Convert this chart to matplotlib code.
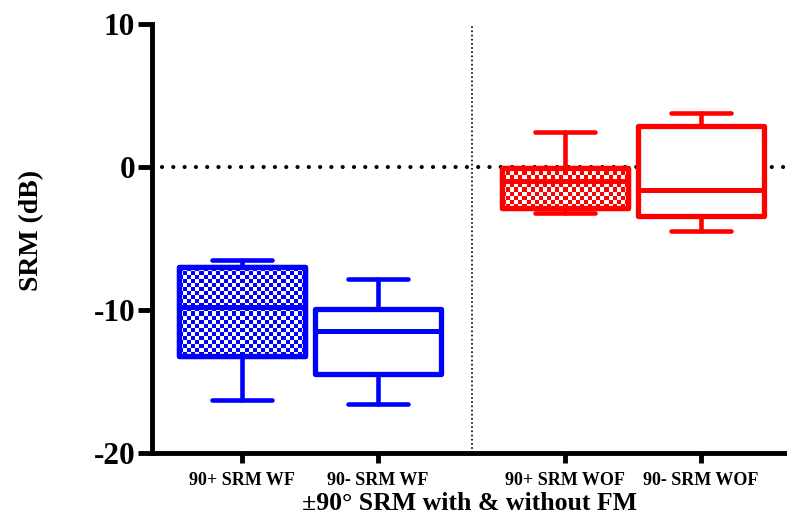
import numpy as np
import matplotlib
matplotlib.use("Agg")
import matplotlib.pyplot as plt

# ---- data ----
categories = ["90+ SRM WF", "90- SRM WF", "90+ SRM WOF", "90- SRM WOF"]
whislo = [-16.3, -16.6, -3.2, -4.45]
q1 = [-13.2, -14.5, -2.9, -3.45]
med = [-9.8, -11.5, -0.95, -1.6]
q3 = [-7.0, -9.9, -0.1, 2.85]
whishi = [-6.5, -7.8, 2.45, 3.8]
colors = ["#0000ff", "#0000ff", "#ff0000", "#ff0000"]
checkered = [True, False, True, False]
yticks = [-20, -10, 0, 10]

positions = [1, 2, 3.375, 4.375]
divider_x = 2.69

plt.rcParams['font.family'] = ['Liberation Serif', 'DejaVu Serif']
plt.rcParams['font.weight'] = 'bold'

fig = plt.figure(figsize=(7.87, 5.18), dpi=100)
ax = fig.add_axes([152/787, 1-453/518, 1-152/787, (453-24)/518])

stats = []
for i in range(len(categories)):
    stats.append(dict(label=categories[i], whislo=whislo[i], q1=q1[i], med=med[i],
                      q3=q3[i], whishi=whishi[i], fliers=[]))

bp = ax.bxp(stats, positions=positions, widths=0.93, capwidths=0.44,
            patch_artist=True, showfliers=False, manage_ticks=False)

ax.set_xlim(0.338, 5.007)
ax.set_ylim(-20, 10)

for i, box in enumerate(bp['boxes']):
    c = colors[i]
    box.set_facecolor('white')
    box.set_edgecolor(c)
    box.set_linewidth(3.8)
    box.set_joinstyle('round')
    box.set_zorder(3)
    for art in (bp['whiskers'][2*i], bp['whiskers'][2*i+1], bp['caps'][2*i], bp['caps'][2*i+1]):
        art.set_color(c)
        art.set_linewidth(3.3)
        art.set_solid_capstyle('round')
        art.set_zorder(2.5)
    m = bp['medians'][i]
    m.set_color(c)
    m.set_linewidth(3.6)
    m.set_zorder(5)
    if checkered[i]:
        ext = box.get_path().get_extents()
        x0, y0, x1, y1 = ext.x0, ext.y0, ext.x1, ext.y1
        disp = ax.transData.transform([[x0, y0], [x1, y1]])
        wpx = abs(disp[1, 0] - disp[0, 0])
        hpx = abs(disp[1, 1] - disp[0, 1])
        nx = max(2, int(round(wpx / 4.1)))
        ny = max(2, int(round(hpx / 4.1)))
        yy, xx = np.indices((ny, nx))
        chk = ((xx + yy) % 2 == 0)
        rgb = np.array(matplotlib.colors.to_rgb(c))
        img = np.ones((ny, nx, 3))
        img[chk] = rgb
        im = ax.imshow(img, extent=(x0, x1, y0, y1), interpolation='nearest',
                       aspect='auto', zorder=4)
        im.set_clip_path(box)
        edge = matplotlib.patches.PathPatch(box.get_path(), facecolor='none',
                                            edgecolor=c, linewidth=3.8,
                                            joinstyle='round', zorder=4.5)
        ax.add_patch(edge)

ax.set_aspect('auto')

# reference lines
ax.axhline(0, xmin=0.015, color='black', linewidth=3.0, dashes=(0.01, 2.7),
           dash_capstyle='round', zorder=1)
ax.axvline(divider_x, color='black', linewidth=1.2, linestyle=(0, (1, 1.5)), zorder=1)

# spines
for s in ['top', 'right']:
    ax.spines[s].set_visible(False)
for s in ['left', 'bottom']:
    ax.spines[s].set_linewidth(3.5)

ax.set_yticks(yticks)
ax.set_yticklabels([str(v) for v in yticks], fontsize=22.5, fontweight='bold')
ax.tick_params(axis='y', length=10, width=3.5, pad=2)
ax.set_xticks(positions)
ax.set_xticklabels(categories, fontsize=13, fontweight='bold')
ax.tick_params(axis='x', length=7, width=3.5, pad=7)

ax.set_ylabel("SRM (dB)", fontsize=20, fontweight='bold')
ax.yaxis.set_label_coords(-(152 - 44) / (787 - 152), (453 - 230.5) / 429)
ax.set_xlabel("±90° SRM with & without FM", fontsize=18.5, fontweight='bold', labelpad=2)

fig.savefig("out.png", dpi=100)
